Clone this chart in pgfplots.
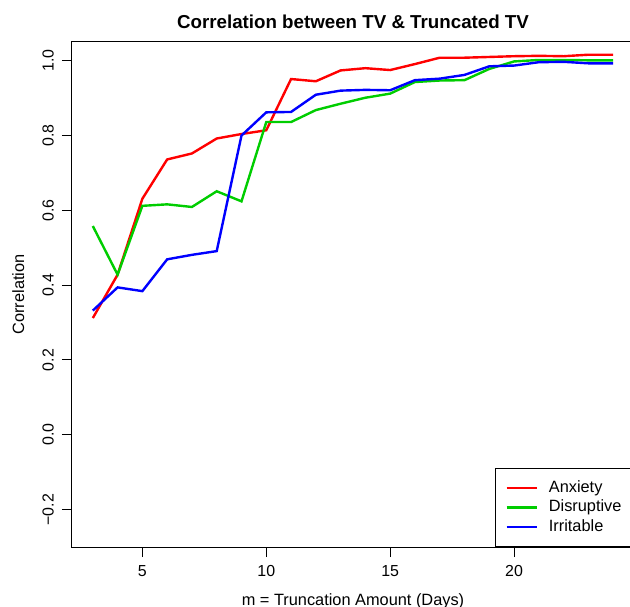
\documentclass[border=0pt]{standalone}
\usepackage{fontspec}
\setmainfont{Liberation Sans}
\usepackage{pgfplots}
\pgfplotsset{compat=1.18}
\definecolor{rred}{RGB}{255,0,0}
\definecolor{rgreen}{RGB}{0,205,0}
\definecolor{rblue}{RGB}{0,0,255}

\begin{document}
\begin{tikzpicture}
  \begin{axis}[
      scale only axis,
      width=562bp, height=505bp,
      xmin=2.16, xmax=24.84,
      ymin=-0.3, ymax=1.05,
      xtick={5,10,15,20},
      ytick={-0.2,0,0.2,0.4,0.6,0.8,1.0},
      yticklabels={−0.2,0.0,0.2,0.4,0.6,0.8,1.0},
      tick align=outside, tick pos=left,
      major tick length=10bp,
      tick style={black, line width=1bp},
      axis line style={black, line width=1bp},
      ticklabel style={font=\fontsize{16}{19}\selectfont},
      /pgf/number format/assume math mode=true,
      xticklabel shift=4.7bp,
      yticklabel style={rotate=90, anchor=south},
      yticklabel shift=4.7bp,
      title={Correlation between TV \& Truncated TV},
      title style={at={(axis description cs:0.5,1.0158)}, anchor=base,
                   font=\bfseries\fontsize{18.8}{22}\selectfont},
      xlabel={m = Truncation Amount (Days)},
      xlabel style={at={(axis description cs:0.5,-0.1149)}, anchor=base,
                    font=\fontsize{16.4}{19}\selectfont},
      ylabel={Correlation},
      ylabel style={at={(axis description cs:-0.0854,0.5)}, anchor=base,
                    font=\fontsize{16.4}{19}\selectfont},
      legend style={at={(axis description cs:1,0)}, anchor=south east,
                    draw=black, line width=1bp, inner xsep=10bp, inner ysep=9.75bp,
                    row sep=0bp, font=\fontsize{16.4}{19}\selectfont,
                    nodes={inner xsep=2bp, inner ysep=2bp, text height=12bp, text depth=3.5bp}},
      legend cell align=left,
      legend image code/.code={\draw[#1, line width=2.2bp] (0bp,0bp) -- (30bp,0bp); \path (39bp,0bp);},
    ]
    \addplot[rred, line width=2.4bp] coordinates {
      (3,0.312)(4,0.428)(5,0.631)(6,0.736)(7,0.752)(8,0.792)(9,0.804)(10,0.814)
      (11,0.951)(12,0.945)(13,0.974)(14,0.980)(15,0.975)(16,0.991)(17,1.008)
      (18,1.008)(19,1.010)(20,1.012)(21,1.013)(22,1.012)(23,1.016)(24,1.016)
    };
    \addlegendentry{Anxiety}
    \addplot[rgreen, line width=2.4bp] coordinates {
      (3,0.558)(4,0.428)(5,0.612)(6,0.616)(7,0.609)(8,0.651)(9,0.624)(10,0.836)
      (11,0.836)(12,0.868)(13,0.885)(14,0.901)(15,0.912)(16,0.943)(17,0.947)
      (18,0.948)(19,0.978)(20,0.998)(21,1.002)(22,1.002)(23,1.001)(24,1.001)
    };
    \addlegendentry{Disruptive}
    \addplot[rblue, line width=2.4bp] coordinates {
      (3,0.332)(4,0.394)(5,0.384)(6,0.469)(7,0.481)(8,0.491)(9,0.800)(10,0.862)
      (11,0.863)(12,0.909)(13,0.920)(14,0.922)(15,0.921)(16,0.948)(17,0.952)
      (18,0.962)(19,0.985)(20,0.987)(21,0.996)(22,0.997)(23,0.993)(24,0.993)
    };
    \addlegendentry{Irritable}
  \end{axis}
  \pgfresetboundingbox
  \path (-72bp,-60bp) rectangle (558bp,547bp);
\end{tikzpicture}
\end{document}
